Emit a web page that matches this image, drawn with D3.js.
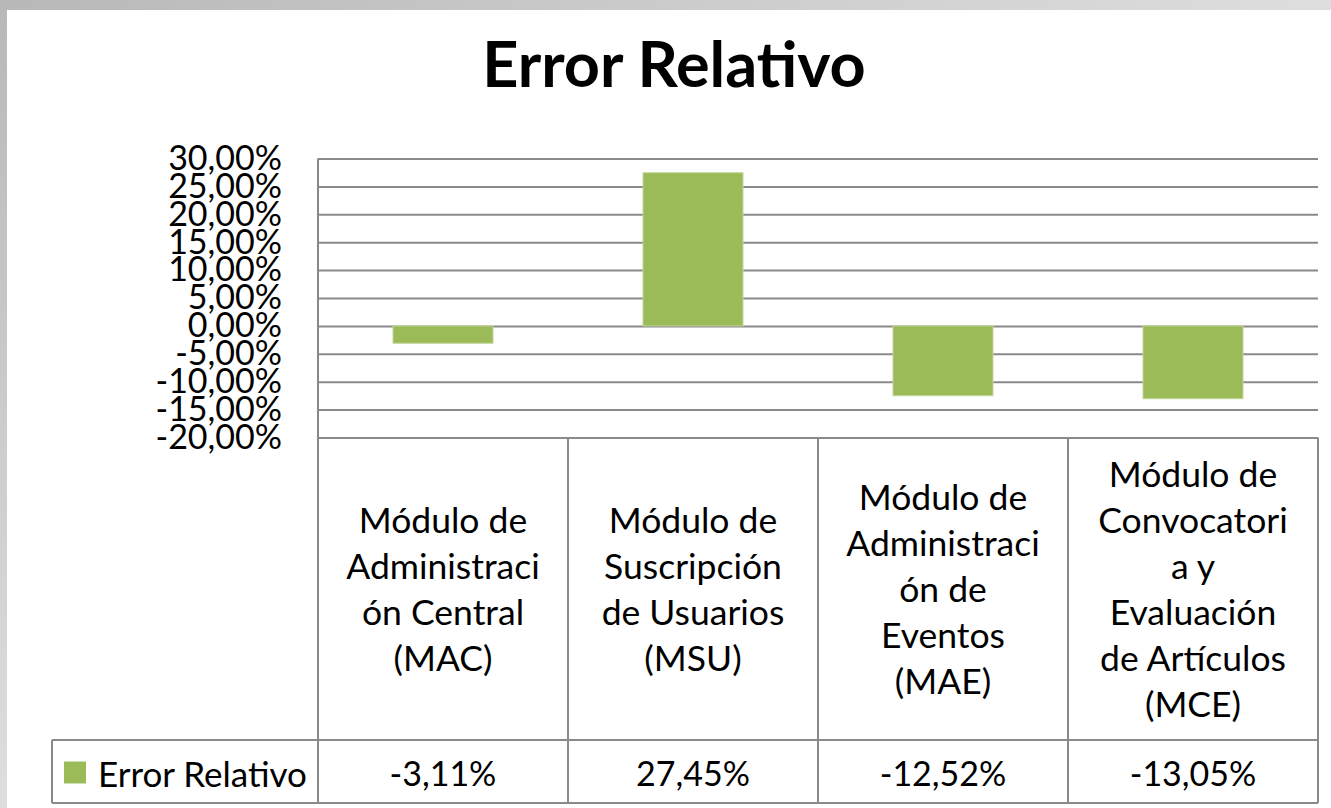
<!DOCTYPE html>
<html>
<head>
<meta charset="utf-8">
<script src="https://cdn.jsdelivr.net/npm/d3@7"></script>
<style>
  html, body { margin: 0; padding: 0; background: #d0d0d0; }
  svg { display: block; }
  text { font-family: Lato, "Open Sans", sans-serif; fill: #000; }
</style>
</head>
<body>
<div id="chart"></div>
<script>
// chart data
var title = "Error Relativo";
var seriesName = "Error Relativo";
var codes = ["MAC", "MSU", "MAE", "MCE"];
var categoryLines = [
	["Módulo de", "Administraci", "ón Central", "(MAC)"],
	["Módulo de", "Suscripción", "de Usuarios", "(MSU)"],
	["Módulo de", "Administraci", "ón de", "Eventos", "(MAE)"],
	["Módulo de", "Convocatori", "a y", "Evaluación", "de Artículos", "(MCE)"]
];
var errorValues = [-3.11, 27.45, -12.52, -13.05];
var yTicks = [-20, -15, -10, -5, 0, 5, 10, 15, 20, 25, 30];

(function() {
	var W = 1331, H = 808;
	var plot = { left: 318, right: 1318, top: 158.5, bottom: 437.5 };
	var tableBottom = 803, headerBottom = 740, legendLeft = 52;
	var lineColor = "#8a8a8a", barColor = "#9bbb59";

	var es = d3.formatLocale({ decimal: ",", thousands: ".", grouping: [3], currency: ["", "€"], minus: "-" });
	var pct = function(v) { return es.format(".2f")(v) + "%"; };

	var svg = d3.select("#chart")
		.append("svg")
		.attr("width", W)
		.attr("height", H);

	// grey paper-ish background and white card
	var defs = svg.append("defs");
	var grad = defs.append("linearGradient").attr("id", "bg")
		.attr("x1", 0).attr("y1", 0).attr("x2", 1).attr("y2", 1);
	grad.append("stop").attr("offset", "0%").attr("stop-color", "#b8b8b8");
	grad.append("stop").attr("offset", "50%").attr("stop-color", "#dedede");
	grad.append("stop").attr("offset", "100%").attr("stop-color", "#c0c0c0");
	svg.append("rect").attr("width", W).attr("height", H).attr("fill", "url(#bg)");
	svg.append("rect").attr("x", 7).attr("y", 10).attr("width", W - 7).attr("height", H - 10).attr("fill", "#fff");

	// title
	svg.append("text")
		.attr("x", 674).attr("y", 87)
		.attr("text-anchor", "middle")
		.style("font-size", "63px")
		.style("font-weight", "bold")
		.text(title);

	// scales
	var x = d3.scaleBand().domain(codes).range([plot.left, plot.right]).paddingInner(0.6).paddingOuter(0.3);
	var xCol = d3.scaleBand().domain(codes).range([plot.left, plot.right]);
	var y = d3.scaleLinear().domain([-20, 30]).range([plot.bottom, plot.top]);

	// y axis with gridlines
	var yAxis = d3.axisLeft(y)
		.tickValues(yTicks)
		.tickFormat(pct)
		.tickSizeInner(-(plot.right - plot.left))
		.tickSizeOuter(0)
		.tickPadding(36);

	var gy = svg.append("g")
		.attr("transform", "translate(" + plot.left + ",0)")
		.call(yAxis);
	gy.select(".domain").remove();
	gy.selectAll(".tick line").attr("stroke", lineColor).attr("stroke-width", 2);
	gy.selectAll(".tick text")
		.style("font-size", "34px")
		.style("font-family", "Lato, sans-serif")
		.attr("fill", "#000");

	// bars
	svg.selectAll("rect.bar")
		.data(errorValues)
		.enter()
		.append("rect")
		.attr("class", "bar")
		.attr("x", function(d, i) { return x(codes[i]); })
		.attr("width", x.bandwidth())
		.attr("y", function(d) { return y(Math.max(0, d)); })
		.attr("height", function(d) { return Math.abs(y(d) - y(0)); })
		.attr("fill", barColor)
		.attr("stroke", "#c3d69b")
		.attr("stroke-width", 1);

	// data table lines
	var lines = svg.append("g").attr("stroke", lineColor).attr("stroke-width", 2).attr("fill", "none");
	lines.append("line").attr("x1", plot.left).attr("x2", plot.left).attr("y1", plot.top).attr("y2", tableBottom);
	codes.forEach(function(c) {
		var xr = xCol(c) + xCol.bandwidth();
		lines.append("line").attr("x1", xr).attr("x2", xr).attr("y1", plot.bottom).attr("y2", tableBottom);
	});
	lines.append("line").attr("x1", legendLeft).attr("x2", plot.right).attr("y1", headerBottom).attr("y2", headerBottom);
	lines.append("line").attr("x1", legendLeft).attr("x2", plot.right).attr("y1", tableBottom).attr("y2", tableBottom);
	lines.append("line").attr("x1", legendLeft).attr("x2", legendLeft).attr("y1", headerBottom).attr("y2", tableBottom);

	// category headers
	var lh = 46, midHead = (plot.bottom + headerBottom) / 2;
	codes.forEach(function(c, i) {
		var ls = categoryLines[i];
		var t = svg.append("text")
			.attr("text-anchor", "middle")
			.style("font-size", "35.5px");
		ls.forEach(function(s, k) {
			t.append("tspan")
				.attr("x", xCol(c) + xCol.bandwidth() / 2)
				.attr("y", midHead + (k - (ls.length - 1) / 2) * lh)
				.attr("dominant-baseline", "central")
				.text(s);
		});
	});

	// value row
	var midRow = (headerBottom + tableBottom) / 2 + 1;
	svg.selectAll("text.val")
		.data(errorValues)
		.enter()
		.append("text")
		.attr("class", "val")
		.attr("x", function(d, i) { return xCol(codes[i]) + xCol.bandwidth() / 2; })
		.attr("y", midRow)
		.attr("text-anchor", "middle")
		.attr("dominant-baseline", "central")
		.style("font-size", "34px")
		.text(pct);

	// legend key
	svg.append("rect")
		.attr("x", 64).attr("y", midRow - 11)
		.attr("width", 22).attr("height", 22)
		.attr("fill", barColor);
	svg.append("text")
		.attr("x", 98).attr("y", midRow)
		.attr("dominant-baseline", "central")
		.style("font-size", "35px")
		.text(seriesName);
})();
</script>
</body>
</html>
